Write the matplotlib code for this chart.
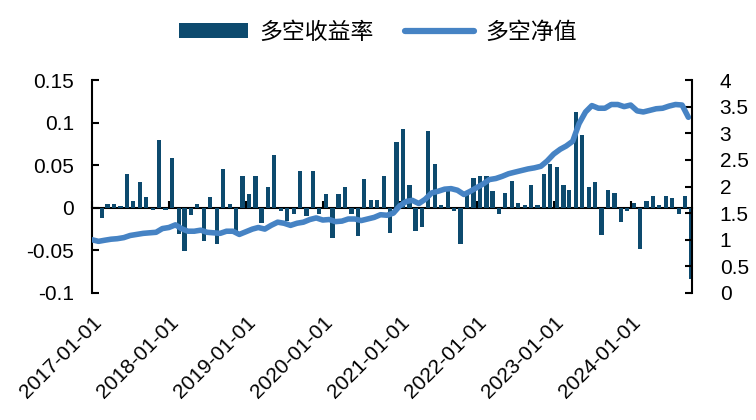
import matplotlib as mpl
mpl.use('Agg')
import matplotlib.pyplot as plt
import matplotlib.dates as mdates
from matplotlib.ticker import MultipleLocator
import pandas as pd

# monthly long-short return (bars, left axis), Jan 2017 .. Oct 2024
ret = [0.000, -0.012, 0.005, 0.005, 0.002, 0.040, 0.008, 0.030, 0.013, -0.002,
       0.080, -0.002, 0.059, -0.031, -0.051, -0.009, 0.005, -0.039, 0.013, -0.043,
       0.045, 0.005, -0.028, 0.037, 0.016, 0.037, -0.018, 0.024, 0.062, -0.004,
       -0.015, -0.007, 0.043, -0.010, 0.043, -0.007, 0.016, -0.036, 0.016, 0.024,
       -0.007, -0.033, 0.034, 0.009, 0.009, 0.037, -0.030, 0.077, 0.093, 0.027,
       -0.027, -0.022, 0.090, 0.051, 0.003, 0.020, -0.004, -0.043, 0.017, 0.035,
       0.037, 0.037, 0.020, -0.007, 0.017, 0.032, 0.006, 0.003, 0.027, 0.003,
       0.040, 0.051, 0.048, 0.027, 0.021, 0.112, 0.085, 0.025, 0.030, -0.032,
       0.021, 0.017, -0.017, -0.004, 0.006, -0.048, 0.008, 0.014, 0.003, 0.014,
       0.012, -0.007, 0.014, -0.083]

# long-short net value (line, right axis)
nav = [1.00, 0.97, 0.99, 1.01, 1.02, 1.04, 1.08, 1.10, 1.12, 1.13,
       1.14, 1.21, 1.23, 1.28, 1.21, 1.16, 1.16, 1.18, 1.14, 1.13,
       1.12, 1.16, 1.16, 1.10, 1.15, 1.20, 1.23, 1.20, 1.27, 1.33,
       1.31, 1.27, 1.31, 1.33, 1.38, 1.41, 1.37, 1.38, 1.34, 1.35,
       1.39, 1.39, 1.36, 1.39, 1.42, 1.47, 1.46, 1.50, 1.64, 1.72,
       1.74, 1.68, 1.76, 1.88, 1.91, 1.95, 1.96, 1.93, 1.85, 1.91,
       1.98, 2.05, 2.13, 2.15, 2.19, 2.24, 2.27, 2.30, 2.33, 2.35,
       2.38, 2.48, 2.61, 2.70, 2.76, 2.85, 3.18, 3.40, 3.52, 3.47,
       3.47, 3.54, 3.54, 3.50, 3.53, 3.42, 3.40, 3.43, 3.46, 3.47,
       3.51, 3.54, 3.53, 3.30]

months = pd.date_range('2017-01-01', periods=len(nav), freq='MS')
bar_dates = months + pd.Timedelta(days=15)
year_ticks = pd.date_range('2017-01-01', '2024-01-01', freq='YS')

bar_color = '#0D4A6E'
line_color = '#4683C4'

plt.rcParams['font.family'] = ['Liberation Sans', 'DejaVu Sans']
plt.rcParams['axes.unicode_minus'] = False

fig = plt.figure(figsize=(7.56, 4.2), dpi=100)
ax = fig.add_axes([0.1217, 0.3024, 0.7936, 0.5071])

bars = ax.bar(bar_dates, ret, width=20, color=bar_color, label='多空收益率', zorder=2)
ax.set_ylim(-0.1, 0.15)
ax.yaxis.set_major_locator(MultipleLocator(0.05))
ax.yaxis.set_major_formatter(mpl.ticker.FuncFormatter(lambda v, p: '%g' % round(v, 2)))
ax.set_xlim(pd.Timestamp('2017-01-01'), pd.Timestamp('2024-10-18'))

ax.set_xticks(year_ticks)
ax.xaxis.set_major_formatter(mdates.DateFormatter('%Y-%m-%d'))
ax.tick_params(axis='x', length=0, pad=14, labelsize=15)
plt.setp(ax.get_xticklabels(), rotation=45, ha='right', rotation_mode='anchor')
ax.tick_params(axis='y', direction='in', length=5, width=1.5, labelsize=15, pad=13)

for s in ['top', 'bottom', 'right']:
    ax.spines[s].set_visible(False)
ax.spines['left'].set_linewidth(1.5)

# zero line carrying the year tick marks
zero = ax.secondary_xaxis(0.4)
zero.set_xticks(year_ticks)
zero.tick_params(direction='in', length=5, width=1.5, labelbottom=False)
zero.spines['bottom'].set_linewidth(1.5)

ax2 = ax.twinx()
ln, = ax2.plot(months, nav, color=line_color, lw=4, label='多空净值',
               solid_capstyle='round', solid_joinstyle='round')
ax2.set_ylim(0, 4)
ax2.yaxis.set_major_locator(MultipleLocator(0.5))
ax2.yaxis.set_major_formatter(mpl.ticker.FuncFormatter(lambda v, p: '%g' % v))
ax2.tick_params(axis='y', direction='in', length=5, width=1.5, labelsize=15, pad=20)
for s in ['top', 'bottom', 'left']:
    ax2.spines[s].set_visible(False)
ax2.spines['right'].set_linewidth(1.5)

leg = fig.legend([bars, ln], ['多空收益率', '多空净值'], loc='upper center',
                 bbox_to_anchor=(0.5, 1.0), ncol=2, frameon=False,
                 prop={'family': ['Noto Sans CJK SC'], 'size': 16.5},
                 handlelength=3.0, handleheight=0.65, handletextpad=0.5,
                 columnspacing=1.4)
leg.get_lines()[0].set_linewidth(4.5)

fig.savefig('out.png', dpi=100)
